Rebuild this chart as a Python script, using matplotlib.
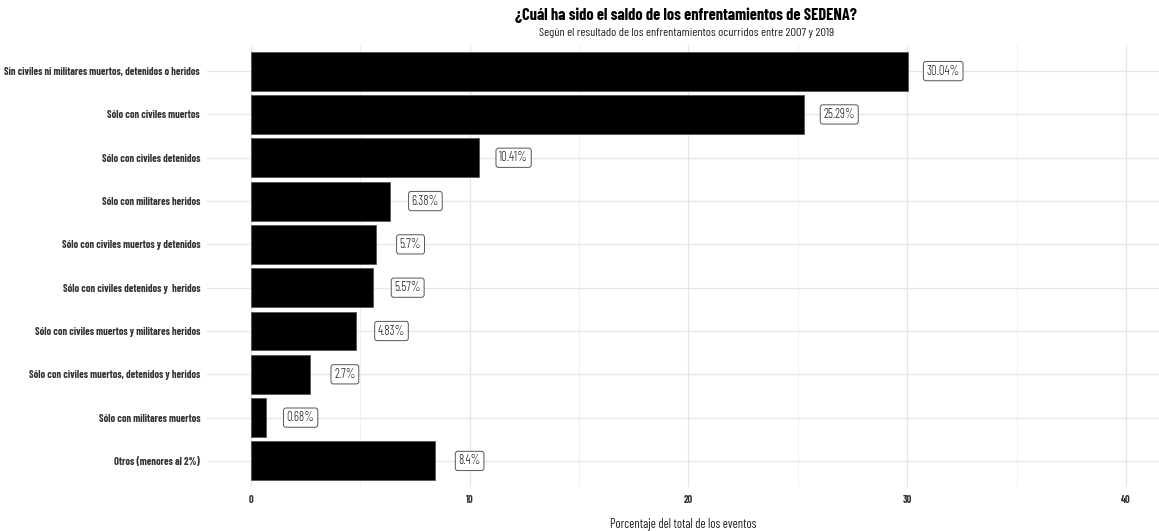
import matplotlib.pyplot as plt
from matplotlib import font_manager

# categorías y valores (porcentaje del total de eventos)
categorias = [
    "Sin civiles ni militares muertos, detenidos o heridos",
    "Sólo con civiles muertos",
    "Sólo con civiles detenidos",
    "Sólo con militares heridos",
    "Sólo con civiles muertos y detenidos",
    "Sólo con civiles detenidos y  heridos",
    "Sólo con civiles muertos y militares heridos",
    "Sólo con civiles muertos, detenidos y heridos",
    "Sólo con militares muertos",
    "Otros (menores al 2%)",
]
porcentajes = [30.04, 25.29, 10.41, 6.38, 5.7, 5.57, 4.83, 2.7, 0.68, 8.4]
etiquetas = ["30.04%", "25.29%", "10.41%", "6.38%", "5.7%", "5.57%", "4.83%", "2.7%", "0.68%", "8.4%"]
ticks_x = [0, 10, 20, 30, 40]

nombres = {f.name for f in font_manager.fontManager.ttflist}
fuente = "DejaVu Sans"
for f in ["Barlow Condensed", "Roboto Condensed", "Archivo Narrow", "PT Sans Narrow"]:
    if f in nombres:
        fuente = f
        break
plt.rcParams['font.family'] = [fuente, 'DejaVu Sans']

fig = plt.figure(figsize=(11.59, 5.31), dpi=100)
ax = fig.add_axes([0.1786, 0.083, 0.8214, 0.832])

pos = list(range(len(categorias)))
ax.barh(pos, porcentajes, height=0.9, color="black", edgecolor="#555555", linewidth=0.6, zorder=3)

for y, v, t in zip(pos, porcentajes, etiquetas):
    ax.text(v + 1.6, y, t, ha="center", va="center", fontsize=9, color="#222222", zorder=4,
            fontweight=300,
            bbox=dict(boxstyle="round,pad=0.25,rounding_size=0.2", fc="white", ec="#555555", lw=0.7))

ax.set_xlim(-2.0, 41.5)
ax.set_ylim(len(categorias) - 0.4, -0.6)
ax.set_yticks(pos)
ax.set_yticklabels(categorias, fontsize=7.5, fontweight="bold", color="#333333")
ax.set_xticks(ticks_x)
ax.set_xticklabels([str(t) for t in ticks_x], fontsize=7.5, fontweight="bold", color="#333333")
ax.set_xticks([5, 15, 25, 35], minor=True)
ax.tick_params(axis="both", which="both", length=0, pad=6)
ax.tick_params(axis="y", pad=5)

ax.grid(True, which="major", color="#e6e6e6", linewidth=0.9, zorder=0)
ax.grid(True, which="minor", axis="x", color="#eeeeee", linewidth=0.6, zorder=0)
ax.set_axisbelow(True)
for s in ax.spines.values():
    s.set_visible(False)

ax.set_xlabel("Porcentaje del total de los eventos", fontsize=9, color="#222222", labelpad=9)

fig.text(0.592, 0.972, "¿Cuál ha sido el saldo de los enfrentamientos de SEDENA?",
         ha="center", va="center", fontsize=11.8, fontweight="bold", color="black")
fig.text(0.592, 0.938, "Según el resultado de los enfrentamientos ocurridos entre 2007 y 2019",
         ha="center", va="center", fontsize=8.9, color="#222222")

fig.savefig("out.png", dpi=100, facecolor="white")
